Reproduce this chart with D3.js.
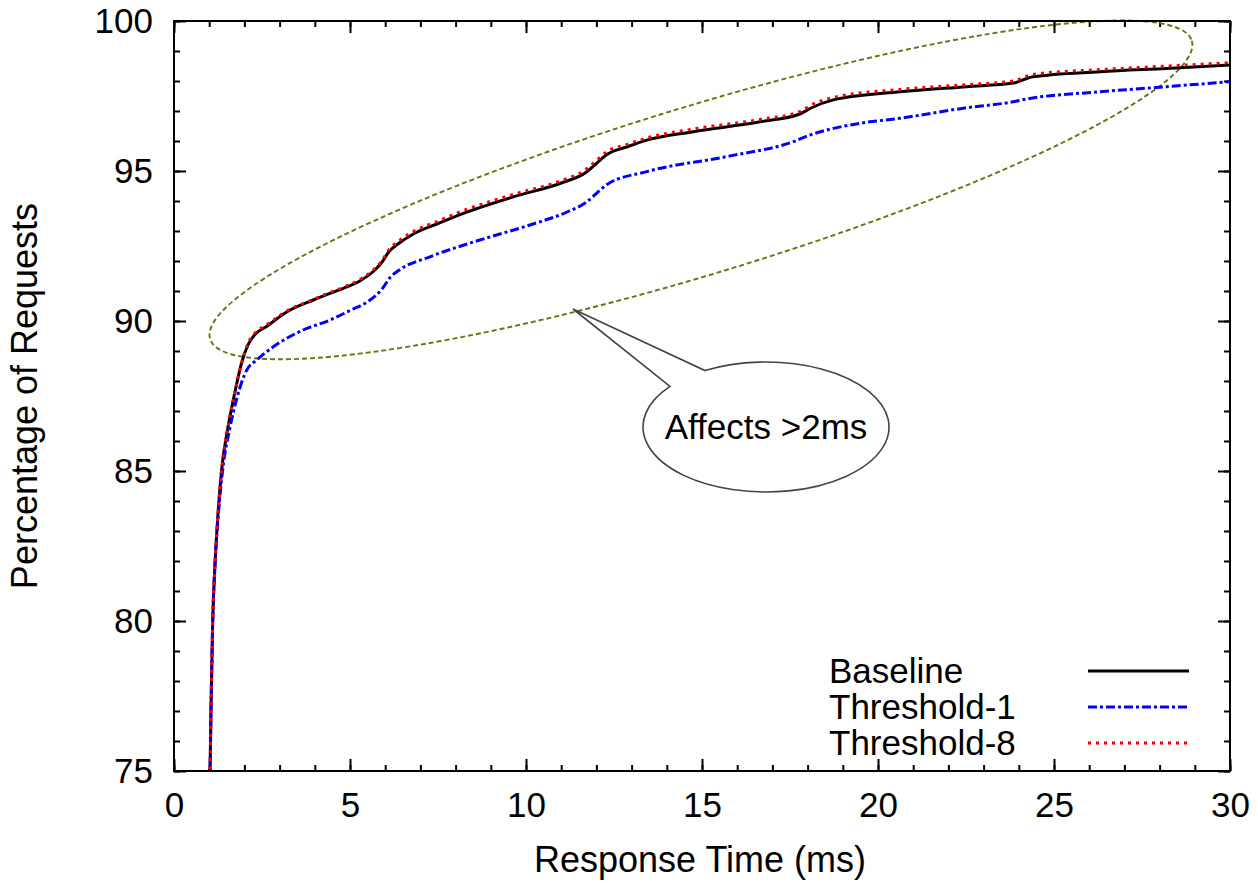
<!DOCTYPE html>
<html>
<head>
<meta charset="utf-8">
<script src="https://cdn.jsdelivr.net/npm/d3@7"></script>
<style>
  body { margin: 0; background: #fff; }
  text { font-family: 'Liberation Sans', Arial, sans-serif; }
</style>
</head>
<body>
<svg id="chart" width="1258" height="883"></svg>
<script>
// response time (ms) / cumulative percentage
const baseX = [0.99, 1.03, 1.05, 1.1, 1.17, 1.24, 1.35, 1.54, 1.69, 1.92, 2.1, 2.3, 2.63, 3.2, 3.96, 4.43, 4.81, 5.3, 5.66, 5.9, 6.1, 6.4, 6.8, 7.5, 8.22, 9.64, 11.0, 11.7, 12.0, 12.3, 12.86, 13.43, 14.75, 16.65, 17.78, 18.1, 18.73, 20.63, 22.52, 23.84, 24.4, 26.31, 28.2, 30];
const baseY = [74, 75.4, 77, 80, 82, 83.4, 85, 86.5, 87.4, 88.6, 89.2, 89.55, 89.82, 90.3, 90.7, 90.92, 91.09, 91.35, 91.65, 91.95, 92.3, 92.6, 92.9, 93.25, 93.59, 94.14, 94.6, 94.95, 95.25, 95.55, 95.8, 96.03, 96.31, 96.64, 96.9, 97.1, 97.37, 97.64, 97.81, 97.93, 98.14, 98.31, 98.42, 98.53];

const thr1X = [0.99, 1.03, 1.05, 1.1, 1.17, 1.25, 1.38, 1.6, 1.78, 2.07, 2.35, 2.82, 3.67, 4.43, 5.0, 5.57, 5.9, 6.14, 6.4, 7.27, 8.69, 10.11, 11.2, 11.7, 12.0, 12.3, 13.43, 15.7, 17.6, 18.07, 18.73, 19.49, 20.63, 22.47, 23.8, 24.22, 26.31, 28.2, 30];
const thr1Y = [74, 75.4, 77, 80, 82, 83.4, 85, 86.5, 87.4, 88.37, 88.7, 89.14, 89.7, 90.03, 90.35, 90.7, 91.05, 91.45, 91.7, 92.14, 92.7, 93.2, 93.65, 93.95, 94.25, 94.55, 94.98, 95.48, 95.98, 96.2, 96.42, 96.59, 96.76, 97.1, 97.3, 97.4, 97.64, 97.81, 97.98];

const thr8X = [0.99, 1.03, 1.05, 1.1, 1.17, 1.24, 1.35, 1.54, 1.69, 1.92, 2.1, 2.3, 2.63, 3.2, 3.96, 4.43, 4.81, 5.3, 5.66, 5.9, 6.1, 6.4, 6.8, 7.5, 8.22, 9.64, 11.0, 11.7, 12.0, 12.3, 12.86, 13.43, 14.75, 16.65, 17.78, 18.1, 18.73, 20.63, 22.52, 23.84, 24.4, 26.31, 28.2, 30];
const thr8Y = [74, 75.4, 77, 80, 82, 83.4, 85, 86.5, 87.4, 88.6, 89.25, 89.6, 89.87, 90.33, 90.72, 90.95, 91.12, 91.4, 91.7, 92.0, 92.37, 92.68, 92.98, 93.33, 93.68, 94.22, 94.68, 95.05, 95.35, 95.65, 95.88, 96.1, 96.4, 96.72, 96.98, 97.2, 97.45, 97.72, 97.88, 98.0, 98.22, 98.38, 98.5, 98.61];

const seriesNames = ['Baseline', 'Threshold-1', 'Threshold-8'];
const xTicks = [0, 5, 10, 15, 20, 25, 30];
const yTicks = [75, 80, 85, 90, 95, 100];
const noteText = 'Affects >2ms';

const plot = { left: 174, top: 21, right: 1230, bottom: 771 };
const fontSize = 35;

const svg = d3.select('#chart');

const x = d3.scaleLinear().domain([0, 30]).range([plot.left, plot.right]);
const y = d3.scaleLinear().domain([75, 100]).range([plot.bottom, plot.top]);

const styles = [
  { color: '#000', dash: null, w: 3 },
  { color: '#0000ff', dash: '9,3,3,3', w: 3 },
  { color: '#ff0000', dash: '3,5', w: 3 },
];
const series = [
  baseX.map((v, i) => [v, baseY[i]]),
  thr1X.map((v, i) => [v, thr1Y[i]]),
  thr8X.map((v, i) => [v, thr8Y[i]]),
];

svg.append('defs').append('clipPath').attr('id', 'clip')
  .append('rect')
  .attr('x', plot.left)
  .attr('y', plot.top)
  .attr('width', plot.right - plot.left)
  .attr('height', plot.bottom - plot.top);

// minor + major ticks, on all four sides
function ticks(axisFn, scale, values, size, tx, ty, labels) {
  const ax = axisFn(scale).tickValues(values).tickSizeInner(-size).tickSizeOuter(0).tickPadding(21);
  if (!labels) ax.tickFormat('');
  const g = svg.append('g').attr('transform', `translate(${tx},${ty})`).call(ax);
  g.select('.domain').remove();
  g.selectAll('line').attr('stroke', '#000').attr('stroke-width', 2);
  g.selectAll('text').attr('font-size', fontSize).attr('fill', '#000')
    .attr('font-family', "'Liberation Sans', Arial, sans-serif");
  return g;
}
const xMinor = d3.range(0, 31);
const yMinor = d3.range(75, 101);
ticks(d3.axisBottom, x, xMinor, 6, 0, plot.bottom, false);
ticks(d3.axisTop, x, xMinor, 6, 0, plot.top, false);
ticks(d3.axisLeft, y, yMinor, 6, plot.left, 0, false);
ticks(d3.axisRight, y, yMinor, 6, plot.right, 0, false);
ticks(d3.axisBottom, x, xTicks, 12, 0, plot.bottom, true);
ticks(d3.axisTop, x, xTicks, 12, 0, plot.top, false);
ticks(d3.axisLeft, y, yTicks, 12, plot.left, 0, true);
ticks(d3.axisRight, y, yTicks, 12, plot.right, 0, false);

// highlighted region
const hl = { cx: 14.97, cy: 94.37, rx: 513, ry: 84, angle: -16.9 };
svg.append('ellipse')
  .attr('cx', x(hl.cx))
  .attr('cy', y(hl.cy))
  .attr('rx', hl.rx)
  .attr('ry', hl.ry)
  .attr('transform', `rotate(${hl.angle} ${x(hl.cx)} ${y(hl.cy)})`)
  .attr('fill', 'none')
  .attr('stroke', '#5f7a14')
  .attr('stroke-width', 1.9)
  .attr('stroke-dasharray', '5,3');

const line = d3.line().x((d) => x(d[0])).y((d) => y(d[1])).curve(d3.curveMonotoneX);
const lg = svg.append('g').attr('clip-path', 'url(#clip)');
series.forEach((s, i) => {
  lg.append('path')
    .attr('d', line(s))
    .attr('fill', 'none')
    .attr('stroke', styles[i].color)
    .attr('stroke-width', styles[i].w)
    .attr('stroke-dasharray', styles[i].dash)
    .attr('stroke-linejoin', 'round');
});

// frame
svg.append('rect')
  .attr('x', plot.left)
  .attr('y', plot.top)
  .attr('width', plot.right - plot.left)
  .attr('height', plot.bottom - plot.top)
  .attr('fill', 'none')
  .attr('stroke', '#000')
  .attr('stroke-width', 2);

// callout bubble
const bub = { cx: 766, cy: 427, rx: 123, ry: 65 };
const tip = [573, 309];
const onBub = (px) => {
  const dx = px - bub.cx;
  return [px, bub.cy - bub.ry * Math.sqrt(1 - (dx / bub.rx) ** 2)];
};
const pA = onBub(670);
const pB = onBub(705);
svg.append('path')
  .attr('d', `M${tip[0]},${tip[1]} L${pB[0]},${pB[1]} A${bub.rx},${bub.ry} 0 1 1 ${pA[0]},${pA[1]} Z`)
  .attr('fill', '#fff')
  .attr('stroke', '#444')
  .attr('stroke-width', 1.6)
  .attr('stroke-linejoin', 'miter');
svg.append('text')
  .attr('x', bub.cx)
  .attr('y', bub.cy + 12)
  .attr('text-anchor', 'middle')
  .attr('font-size', fontSize)
  .text(noteText);

// legend
const leg = svg.append('g');
seriesNames.forEach((name, i) => {
  const ly = 671 + i * 36;
  leg.append('text')
    .attr('x', 829)
    .attr('y', ly + 12)
    .attr('font-size', fontSize)
    .text(name);
  leg.append('line')
    .attr('x1', 1088)
    .attr('x2', 1189)
    .attr('y1', ly)
    .attr('y2', ly)
    .attr('stroke', styles[i].color)
    .attr('stroke-width', styles[i].w)
    .attr('stroke-dasharray', styles[i].dash);
});

// axis titles
svg.append('text')
  .attr('x', 700)
  .attr('y', 872)
  .attr('text-anchor', 'middle')
  .attr('font-size', 36)
  .text('Response Time (ms)');
svg.append('text')
  .attr('transform', `translate(37, ${(plot.top + plot.bottom) / 2}) rotate(-90)`)
  .attr('text-anchor', 'middle')
  .attr('font-size', 36)
  .text('Percentage of Requests');
</script>
</body>
</html>
